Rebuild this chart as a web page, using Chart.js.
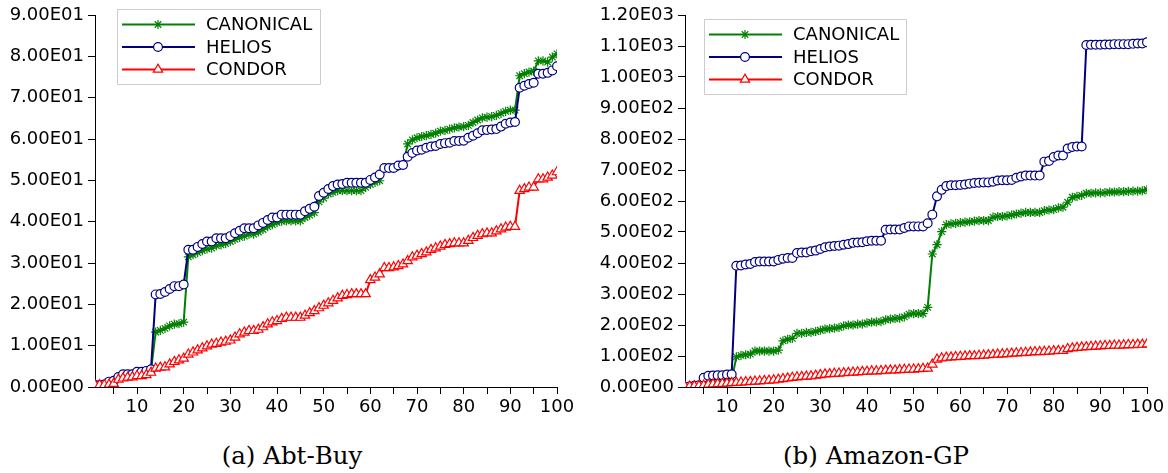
<!DOCTYPE html>
<html>
<head>
<meta charset="utf-8">
<script src="https://cdn.jsdelivr.net/npm/chart.js@4.4.1/dist/chart.umd.min.js"></script>
<style>
  html, body { margin: 0; padding: 0; background: #fff; }
  #page { position: relative; width: 1168px; height: 473px; overflow: hidden; }
  .panel { position: absolute; top: 0; width: 584px; height: 425px; }
  .caption {
    position: absolute; top: 441px; width: 584px; text-align: center;
    font-family: "DejaVu Serif", serif; font-size: 24.5px; line-height: 29px; color: #000;
  }
</style>
</head>
<body>
<div id="page">
  <div class="panel" style="left:0"><canvas id="abt"></canvas></div>
  <div class="panel" style="left:584px"><canvas id="amazon"></canvas></div>
  <div class="caption" style="left:0">(a) Abt-Buy</div>
  <div class="caption" style="left:584px">(b) Amazon-GP</div>
</div>
<script>
/* Two panels, same three systems, x = run number 1..100. */
const runs = [
  1, 2, 3, 4, 5, 6, 7, 8, 9, 10, 11, 12, 13, 14, 15, 16, 17, 18, 19, 20,
  21, 22, 23, 24, 25, 26, 27, 28, 29, 30, 31, 32, 33, 34, 35, 36, 37, 38, 39, 40,
  41, 42, 43, 44, 45, 46, 47, 48, 49, 50, 51, 52, 53, 54, 55, 56, 57, 58, 59, 60,
  61, 62, 63, 64, 65, 66, 67, 68, 69, 70, 71, 72, 73, 74, 75, 76, 77, 78, 79, 80,
  81, 82, 83, 84, 85, 86, 87, 88, 89, 90, 91, 92, 93, 94, 95, 96, 97, 98, 99, 100,
];
const xTicks = [5, 10, 15, 20, 25, 30, 35, 40, 45, 50, 55, 60, 65, 70, 75, 80, 85, 90, 95, 100];
const seriesNames = ["CANONICAL", "HELIOS", "CONDOR"];

// (a) Abt-Buy
const abtCanonical = [
  0.3, 0.4, 0.5, 1.0, 1.2, 2.0, 2.6, 2.7, 2.8, 3.2, 3.3, 3.5, 3.9, 13.3, 13.7, 14.2, 14.8, 15.2, 15.3, 15.7,
  31.5, 32.0, 32.5, 33.0, 33.4, 33.6, 34.2, 34.4, 34.7, 35.2, 35.7, 36.2, 36.5, 37.0, 37.0, 37.5, 38.1, 38.8, 39.3, 39.8,
  40.1, 40.2, 40.2, 40.2, 40.2, 41.0, 41.6, 42.2, 44.8, 45.7, 46.7, 47.1, 47.5, 47.5, 47.5, 47.5, 47.5, 47.5, 48.3, 49.0,
  49.5, 49.9, 53.0, 53.0, 53.0, 53.5, 53.6, 58.8, 59.8, 60.3, 60.6, 60.8, 61.1, 61.4, 61.9, 62.1, 62.4, 62.7, 62.9, 63.0,
  63.3, 64.0, 64.6, 65.1, 65.3, 65.4, 65.7, 66.2, 66.7, 67.0, 67.0, 75.3, 75.8, 76.2, 76.4, 78.9, 78.9, 78.6, 79.8, 80.6,
];
const abtHelios = [
  0.5, 0.5, 0.6, 1.3, 1.5, 2.4, 3.1, 3.1, 3.1, 3.7, 3.7, 3.9, 4.3, 22.4, 22.5, 23.0, 23.7, 24.4, 24.4, 24.8,
  33.2, 33.2, 33.9, 34.6, 35.2, 35.2, 36.0, 36.0, 36.0, 36.5, 37.2, 37.8, 38.4, 38.4, 38.4, 39.1, 39.7, 40.4, 41.0, 41.0,
  41.7, 41.7, 41.7, 41.7, 41.7, 42.5, 43.1, 43.6, 46.2, 47.0, 47.9, 48.6, 49.0, 49.1, 49.4, 49.4, 49.4, 49.4, 49.4, 50.1,
  50.7, 51.4, 53.0, 53.0, 53.0, 53.6, 53.7, 55.7, 56.6, 57.2, 57.4, 57.9, 58.2, 58.3, 58.8, 59.0, 59.1, 59.5, 59.5, 59.6,
  60.3, 60.8, 61.4, 62.1, 62.2, 62.3, 62.4, 63.0, 63.7, 64.0, 64.1, 72.4, 72.9, 73.3, 73.6, 75.8, 75.8, 76.0, 76.6, 77.6,
];
const abtCondor = [
  0.5, 0.5, 0.5, 0.6, 0.8, 1.8, 2.1, 2.3, 2.4, 2.7, 2.7, 2.9, 3.5, 4.5, 4.7, 4.8, 5.5, 6.1, 6.5, 6.9,
  7.9, 8.4, 8.9, 9.4, 9.9, 10.3, 10.5, 10.8, 11.0, 11.3, 12.0, 12.8, 13.2, 13.6, 13.6, 13.9, 14.5, 15.2, 15.7, 16.0,
  16.5, 16.8, 16.8, 16.8, 16.8, 17.3, 17.9, 18.4, 19.1, 19.7, 20.3, 20.9, 21.5, 22.1, 22.3, 22.5, 22.5, 22.5, 22.5, 25.9,
  26.5, 27.3, 28.8, 28.8, 29.0, 29.3, 29.7, 30.5, 31.4, 31.8, 32.2, 32.6, 33.2, 33.6, 34.0, 34.4, 34.6, 34.8, 34.8, 34.8,
  35.4, 36.1, 36.6, 37.0, 37.2, 37.2, 37.7, 38.2, 38.6, 38.8, 38.8, 47.5, 47.9, 48.3, 48.3, 50.3, 50.3, 50.7, 51.2, 52.0,
];

// (b) Amazon-GP
const amazonCanonical = [
  0, 1, 2, 3, 11, 14, 16, 17, 17, 19, 22, 97, 102, 104, 106, 116, 116, 116, 116, 116,
  119, 149, 154, 157, 173, 173, 176, 176, 179, 183, 187, 188, 190, 192, 197, 200, 200, 203, 203, 207,
  209, 210, 211, 217, 219, 221, 222, 226, 235, 237, 237, 237, 257, 429, 459, 501, 524, 526, 528, 530,
  532, 533, 535, 537, 537, 537, 548, 550, 550, 552, 555, 558, 561, 563, 563, 563, 563, 569, 571, 572,
  578, 580, 596, 612, 615, 618, 625, 625, 626, 626, 627, 629, 629, 630, 630, 631, 632, 632, 633, 637,
];
const amazonHelios = [
  0, 2, 4, 6, 30, 36, 37, 38, 38, 40, 41, 391, 392, 395, 397, 403, 405, 405, 405, 405,
  410, 414, 416, 416, 432, 434, 434, 438, 440, 445, 451, 453, 455, 456, 459, 461, 465, 466, 467, 470,
  472, 472, 472, 507, 508, 508, 508, 513, 518, 518, 518, 518, 528, 556, 615, 636, 648, 651, 651, 652,
  653, 656, 658, 659, 660, 660, 662, 666, 667, 667, 668, 675, 679, 682, 682, 682, 682, 727, 729, 742,
  747, 747, 769, 774, 776, 776, 1103, 1104, 1104, 1104, 1105, 1105, 1106, 1106, 1106, 1106, 1107, 1108, 1108, 1112,
];
const amazonCondor = [
  1, 2, 3, 4, 5, 8, 9, 10, 11, 12, 13, 14, 15, 16, 17, 18, 19, 20, 21, 22,
  24, 26, 28, 30, 32, 33, 34, 35, 37, 39, 41, 42, 43, 44, 45, 46, 47, 48, 49, 50,
  51, 51, 52, 53, 54, 54, 55, 56, 57, 57, 58, 59, 60, 73, 89, 93, 95, 96, 97, 98,
  99, 100, 100, 101, 102, 103, 104, 105, 106, 107, 108, 109, 110, 111, 112, 113, 113, 114, 115, 116,
  117, 117, 123, 125, 127, 128, 129, 130, 131, 132, 133, 133, 134, 134, 135, 136, 136, 137, 137, 138,
];

const FONT = '"DejaVu Sans", sans-serif';

// 9.00E01 style labels
function sciLabel(v) {
  const [m, e] = Number(v).toExponential(2).split("e");
  return m + "E" + String(Math.abs(parseInt(e, 10))).padStart(2, "0");
}

function pairs(values) {
  return runs.map((x, i) => ({ x, y: values[i] }));
}

// Matplotlib-style inset legend box, drawn after the data.
const insetLegend = {
  id: "insetLegend",
  afterDraw(chart, _args, opts) {
    const { ctx } = chart;
    const { left, top, width, height, rows } = opts;
    ctx.save();
    ctx.fillStyle = "rgba(255,255,255,0.9)";
    ctx.strokeStyle = "#cccccc";
    ctx.lineWidth = 1;
    ctx.beginPath();
    ctx.rect(left + 0.5, top + 0.5, width, height);
    ctx.fill();
    ctx.stroke();
    ctx.font = "18px " + FONT;
    ctx.textBaseline = "middle";
    const items = chart.data.datasets.slice().sort((a, b) => a.legendRank - b.legendRank);
    items.forEach((ds, i) => {
      const y = rows[i];
      ctx.strokeStyle = ds.borderColor;
      ctx.lineWidth = ds.borderWidth;
      ctx.beginPath();
      ctx.moveTo(left + 5, y);
      ctx.lineTo(left + 78, y);
      ctx.stroke();
      ctx.fillStyle = ds.pointBackgroundColor;
      ctx.strokeStyle = ds.pointBorderColor;
      ctx.lineWidth = ds.pointBorderWidth;
      Chart.helpers.drawPoint(ctx, {
        pointStyle: ds.pointStyle, radius: ds.pointRadius,
        borderWidth: ds.pointBorderWidth, rotation: 0,
      }, left + 41, y);
      ctx.fillStyle = "#000";
      ctx.fillText(ds.label, left + 89, y + 1);
    });
    ctx.restore();
  },
};

function makePanel(canvas, { canon, helios, condor, yMax, yStep, axisWidth, padRight, legend }) {
  const common = { borderWidth: 2, tension: 0, pointBorderWidth: 1.2, pointHoverRadius: 0 };
  return new Chart(canvas, {
    type: "line",
    data: {
      datasets: [
        { ...common, label: seriesNames[2], legendRank: 2, order: 0, data: pairs(condor),
          borderColor: "#ff0000", pointBorderColor: "#ff0000", pointBackgroundColor: "#ffffff",
          pointStyle: "triangle", pointRadius: 5.4 },
        { ...common, label: seriesNames[1], legendRank: 1, order: 1, data: pairs(helios),
          borderColor: "#000080", pointBorderColor: "#000080", pointBackgroundColor: "#ffffff",
          pointStyle: "circle", pointRadius: 4.4 },
        { ...common, label: seriesNames[0], legendRank: 0, order: 2, data: pairs(canon),
          borderColor: "#008000", pointBorderColor: "#008000", pointBackgroundColor: "#008000",
          pointStyle: "star", pointRadius: 4.6 },
      ],
    },
    options: {
      responsive: true,
      maintainAspectRatio: false,
      animation: false,
      devicePixelRatio: 1,
      layout: { padding: { left: 0, right: padRight, top: 15, bottom: 0 } },
      scales: {
        x: {
          type: "linear",
          min: 1,
          max: 100,
          afterBuildTicks: (axis) => { axis.ticks = xTicks.map((value) => ({ value })); },
          afterFit: (scale) => { scale.height = 38; },
          grid: { drawOnChartArea: false, drawTicks: true, tickLength: 7, tickColor: "#000" },
          border: { display: true, color: "#000", width: 1 },
          ticks: {
            autoSkip: false, maxRotation: 0, padding: 3, color: "#000",
            font: { family: FONT, size: 18 },
            callback: (v) => (v % 10 === 0 ? String(v) : ""),
          },
        },
        y: {
          min: 0,
          max: yMax,
          afterFit: (scale) => { scale.width = axisWidth; },
          grid: { drawOnChartArea: false, drawTicks: true, tickLength: 7, tickColor: "#000" },
          border: { display: true, color: "#000", width: 1 },
          ticks: {
            stepSize: yStep, padding: 4, color: "#000",
            font: { family: FONT, size: 18 },
            callback: (v) => sciLabel(v),
          },
        },
      },
      plugins: {
        legend: { display: false },
        tooltip: { enabled: false },
        insetLegend: legend,
      },
    },
    plugins: [insetLegend],
  });
}

makePanel(document.getElementById("abt"), {
  canon: abtCanonical, helios: abtHelios, condor: abtCondor,
  yMax: 90, yStep: 10, axisWidth: 95, padRight: 27,
  legend: { left: 117, top: 9, width: 203, height: 75, rows: [24.5, 47, 69.5] },
});

makePanel(document.getElementById("amazon"), {
  canon: amazonCanonical, helios: amazonHelios, condor: amazonCondor,
  yMax: 1200, yStep: 100, axisWidth: 101, padRight: 21,
  legend: { left: 120, top: 19, width: 202, height: 75, rows: [34.5, 57, 79.5] },
});
</script>
</body>
</html>
